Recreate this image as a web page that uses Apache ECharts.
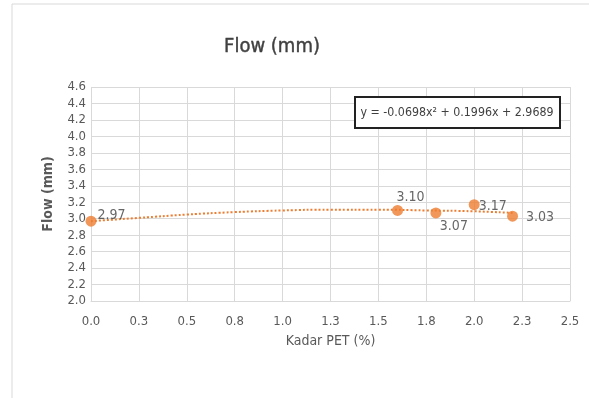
<!DOCTYPE html>
<html><head><meta charset="utf-8">
<script src="https://cdn.jsdelivr.net/npm/echarts@6/dist/echarts.min.js"></script>
<style>html,body{margin:0;padding:0;background:#fff}#c{width:589px;height:398px}</style>
</head><body><div id="c"></div>
<script>
// Data
var kadarPET = [0.0, 1.6, 1.8, 2.0, 2.2];
var flow = [2.97, 3.10, 3.07, 3.17, 3.03];
var flowLabels = ['2.97', '3.10', '3.07', '3.17', '3.03'];
// Trendline points
var trendX = [0.0, 0.25, 0.5, 0.75, 1.0, 1.25, 1.5, 1.75, 2.0, 2.2];
var trendY = [2.97, 3.01, 3.05, 3.08, 3.10, 3.11, 3.11, 3.10, 3.09, 3.07];
var equationText = 'y = -0.0698x\u00B2 + 0.1996x + 2.9689';
var titleText = 'Flow (mm)';
var xName = 'Kadar PET (%)';
var yName = 'Flow (mm)';

var font = '"DejaVu Sans Condensed", "Liberation Sans Narrow", sans-serif';
var labelPos = [
  {position: 'right', offset: [-4, -6]},
  {position: 'top', offset: [13, 4]},
  {position: 'bottom', offset: [18, -4]},
  {position: 'right', offset: [-6, 2]},
  {position: 'right', offset: [3, 1]}
];
var pts = kadarPET.map(function (x, i) {
  return {value: [x, flow[i]], label: Object.assign({show: true, formatter: flowLabels[i]}, labelPos[i])};
});

var chart = echarts.init(document.getElementById('c'), null, {renderer: 'canvas'});
chart.setOption({
  backgroundColor: '#fff',
  animation: false,
  title: {text: titleText, left: 267, top: 32, textAlign: 'center',
    textStyle: {fontFamily: font, fontSize: 20, fontWeight: 'normal', color: '#404040', textBorderColor: '#404040', textBorderWidth: 0.4}},
  grid: {left: 91, right: 19, top: 87, bottom: 97, containLabel: false},
  xAxis: {type: 'value', min: 0, max: 2.5, interval: 0.25,
    name: xName, nameLocation: 'middle', nameGap: 33,
    nameTextStyle: {fontFamily: font, fontSize: 14, color: '#595959'},
    axisLine: {show: true, lineStyle: {color: '#d9d9d9'}},
    axisTick: {show: false},
    axisLabel: {fontFamily: font, fontSize: 13, color: '#595959', margin: 14,
      formatter: function (v) { return v.toFixed(1); }},
    splitLine: {show: true, lineStyle: {color: '#d9d9d9'}}},
  yAxis: {type: 'value', min: 2.0, max: 4.6, interval: 0.2,
    name: yName, nameLocation: 'middle', nameGap: 36,
    nameTextStyle: {fontFamily: font, fontSize: 14, fontWeight: 'bold', color: '#595959'},
    axisLine: {show: false}, axisTick: {show: false},
    axisLabel: {fontFamily: font, fontSize: 13, color: '#595959', margin: 5, lineHeight: 13,
      formatter: function (v) { return v.toFixed(1); }},
    splitLine: {show: true, lineStyle: {color: '#d9d9d9'}}},
  graphic: [
    {type: 'rect', shape: {x: 355, y: 97, width: 205, height: 31},
      style: {fill: '#fff', stroke: '#222', lineWidth: 2}, z: 100},
    {type: 'text', x: 457, y: 113, z: 101,
      style: {text: equationText, fontFamily: font, fontSize: 12.3, fill: '#404040', align: 'center', verticalAlign: 'middle'}},
    {type: 'rect', shape: {x: 12, y: 4, width: 590, height: 400},
      style: {fill: 'none', stroke: '#d9d9d9', lineWidth: 1}, z: 0}
  ],
  series: [
    {type: 'line', data: trendX.map(function (x, i) { return [x, trendY[i]]; }),
      smooth: true, showSymbol: false, symbol: 'none',
      lineStyle: {color: '#ED7D31', width: 2, type: [2, 2]}, z: 2},
    {type: 'scatter', data: pts, symbolSize: 11,
      itemStyle: {color: '#ED7D31'},
      label: {fontFamily: font, fontSize: 14, color: '#404040'}, z: 3}
  ]
});
</script></body></html>
